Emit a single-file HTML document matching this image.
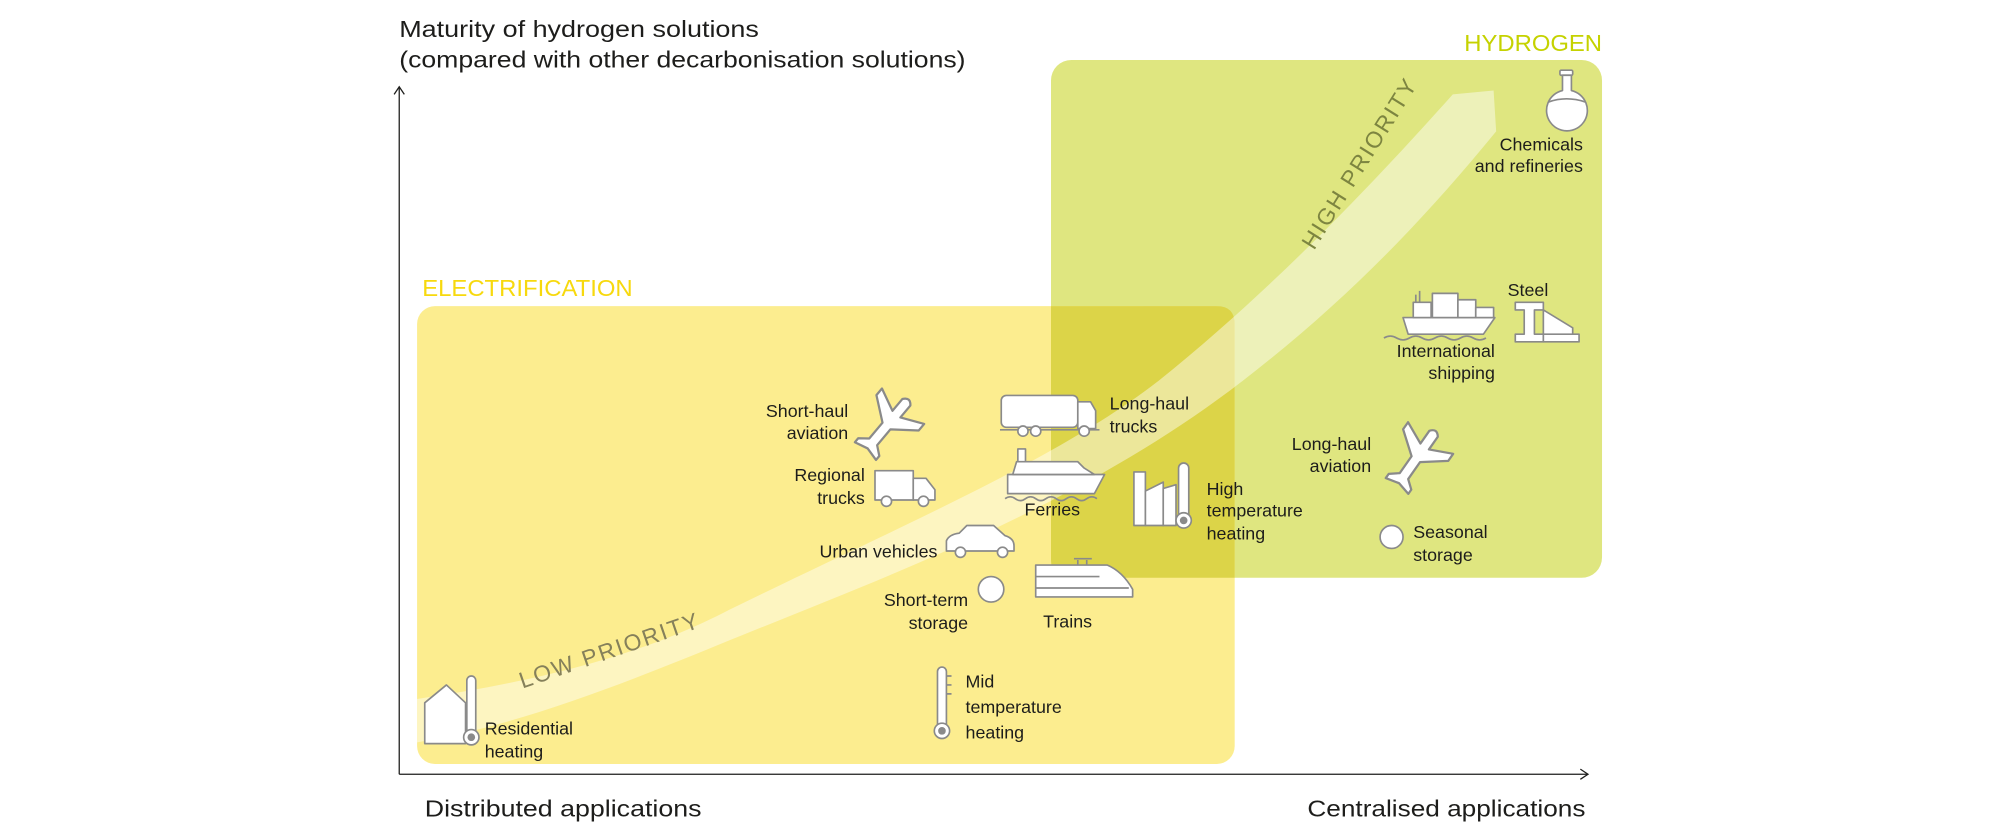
<!DOCTYPE html>
<html><head><meta charset="utf-8"><style>
html,body{margin:0;padding:0;background:#fff;}
svg{display:block;}
text{font-family:"Liberation Sans",sans-serif;}
.l{font-size:14px;fill:#1d1d1b;}
.ic{fill:#fff;stroke:#8a8a8a;stroke-width:1.3;stroke-linejoin:round;}
.icl{fill:none;stroke:#8a8a8a;stroke-width:1.3;}
</style></head><body>
<svg width="2001" height="838" viewBox="0 0 1568.8 657" preserveAspectRatio="none" xmlns="http://www.w3.org/2000/svg">
<rect x="824" y="47" width="432" height="406" rx="16" fill="#dfe680"/>
<rect x="327" y="240" width="641" height="359" rx="14" fill="#fced8f"/>
<path d="M824,240 H954 Q968,240 968,254 V453 H838 Q824,453 824,439 Z" fill="#dcd448"/>
<path d="M327,548 C450,530 520,505 572,478 C700,415 830,360 909,298 C1000,225 1080,140 1139,74 L1171,71 L1173,103 C1110,180 1050,240 975,298 C850,395 700,450 572,502 C480,540 400,570 327,582 Z" fill="#fff" fill-opacity="0.45"/>
<text x="478" y="516" transform="rotate(-19 478 510)" text-anchor="middle" font-size="18" fill="#85805a" letter-spacing="1.5">LOW PRIORITY</text>
<text x="1066" y="134" transform="rotate(-58 1066 128)" text-anchor="middle" font-size="18" fill="#7d8540" letter-spacing="1.5">HIGH PRIORITY</text>
<line x1="313" y1="68" x2="313" y2="607" stroke="#1d1d1b" stroke-width="1"/>
<path d="M309,74 L313,68 L317,74" fill="none" stroke="#1d1d1b"/>
<line x1="313" y1="607" x2="1245" y2="607" stroke="#1d1d1b" stroke-width="1"/>
<path d="M1239,603 L1245,607 L1239,611" fill="none" stroke="#1d1d1b"/>
<text x="313" y="29" font-size="18" fill="#1d1d1b" textLength="282" lengthAdjust="spacingAndGlyphs">Maturity of hydrogen solutions</text>
<text x="313" y="53" font-size="18" fill="#1d1d1b" textLength="444" lengthAdjust="spacingAndGlyphs">(compared with other decarbonisation solutions)</text>
<text x="1256" y="40" font-size="18" fill="#c5d200" text-anchor="end" textLength="108" lengthAdjust="spacingAndGlyphs">HYDROGEN</text>
<text x="331" y="232" font-size="18" fill="#f7d90e" textLength="165" lengthAdjust="spacingAndGlyphs">ELECTRIFICATION</text>
<text x="333" y="640" font-size="18" fill="#1d1d1b" textLength="217" lengthAdjust="spacingAndGlyphs">Distributed applications</text>
<text x="1025" y="640" font-size="18" fill="#1d1d1b" textLength="218" lengthAdjust="spacingAndGlyphs">Centralised applications</text>
<g class="l">
<text x="665" y="327" text-anchor="end">Short-haul</text>
<text x="665" y="344" text-anchor="end">aviation</text>
<text x="678" y="377" text-anchor="end">Regional</text>
<text x="678" y="395" text-anchor="end">trucks</text>
<text x="870" y="321">Long-haul</text>
<text x="870" y="339">trucks</text>
<text x="825" y="404" text-anchor="middle">Ferries</text>
<text x="946" y="388">High</text>
<text x="946" y="405">temperature</text>
<text x="946" y="423">heating</text>
<text x="735" y="437" text-anchor="end">Urban vehicles</text>
<text x="759" y="475" text-anchor="end">Short-term</text>
<text x="759" y="493" text-anchor="end">storage</text>
<text x="837" y="492" text-anchor="middle">Trains</text>
<text x="1075" y="353" text-anchor="end">Long-haul</text>
<text x="1075" y="370" text-anchor="end">aviation</text>
<text x="1108" y="422">Seasonal</text>
<text x="1108" y="440">storage</text>
<text x="1241" y="118" text-anchor="end">Chemicals</text>
<text x="1241" y="135" text-anchor="end">and refineries</text>
<text x="1172" y="280" text-anchor="end">International</text>
<text x="1172" y="297" text-anchor="end">shipping</text>
<text x="1182" y="232">Steel</text>
<text x="380" y="576">Residential</text>
<text x="380" y="594">heating</text>
<text x="757" y="539">Mid</text>
<text x="757" y="559">temperature</text>
<text x="757" y="579">heating</text>
</g>
<defs>
<path id="plane" d="M0,-3 L12,-3 L22,-16 L27,-16 L21,-3 L30,-3 Q34,0 30,3 L21,3 L27,16 L22,16 L12,3 L0,3 L-4,8 L-7,8 L-5,0 L-7,-8 L-4,-8 Z"/>
</defs>
<use href="#plane" class="ic" transform="translate(695,334) rotate(-50) scale(1.35) translate(-12,0)"/>
<use href="#plane" class="ic" transform="translate(1110,360) rotate(-55) scale(1.35) translate(-12,0)"/>
<g><rect x="686" y="369" width="30" height="23" class="ic"/><path d="M716,375 H726 L733,384 V392 H716 Z" class="ic"/><circle cx="695" cy="393" r="4" class="ic"/><circle cx="724" cy="393" r="4" class="ic"/></g>
<g><rect x="785" y="310" width="60" height="25" rx="4" class="ic"/><path d="M845,315 H855 L859,322 V336 H845 Z" class="ic"/><line x1="784" y1="337" x2="862" y2="337" class="icl"/><circle cx="802" cy="338" r="4" class="ic"/><circle cx="812" cy="338" r="4" class="ic"/><circle cx="850" cy="338" r="4" class="ic"/></g>
<g><path d="M790,372 H866 L858,387 H790 Z" class="ic"/><path d="M794,372 L797,362 H845 L850,367 L858,372 Z" class="ic"/><rect x="798" y="352" width="6" height="10" class="ic"/><path d="M788,391 q4,-3 8,0 t8,0 t8,0 t8,0 t8,0 t8,0 t8,0 t8,0 t8,0" class="icl"/></g>
<g><path d="M889,412 V370 H898 V412 Z" class="ic"/><path d="M898,412 V385 L912,378 V412 Z" class="ic"/><path d="M912,412 V383 L922,380 V412 Z" class="ic"/><rect x="924" y="363" width="8" height="45" rx="4" class="ic"/><circle cx="928" cy="408" r="6" class="ic"/><circle cx="928" cy="408" r="3" fill="#8a8a8a"/></g>
<g><path d="M742,432 V424 Q744,419 752,418 L758,412 H779 L788,420 Q795,422 795,428 V432 Z" class="ic"/><circle cx="753" cy="433" r="4" class="ic"/><circle cx="786" cy="433" r="4" class="ic"/></g>
<circle cx="777" cy="462" r="10" class="ic"/>
<g><path d="M812,443 H868 Q880,448 888,462 V468 H812 Z" class="ic"/><line x1="812" y1="452" x2="862" y2="452" class="icl"/><line x1="812" y1="461" x2="885" y2="461" class="icl"/><path d="M845,443 V439 M852,443 V439 M842,438 H856" class="icl"/></g>
<circle cx="1091" cy="421" r="9" class="ic"/>
<g><rect x="1223" y="55" width="10" height="4" rx="1" class="ic"/><path d="M1225,59 V71 A16,16 0 1 0 1232,71 V59 Z" class="ic"/><path d="M1214,80 Q1228,75 1243,80" class="icl"/></g>
<g><path d="M1100,249 H1172 L1163,262 H1104 Z" class="ic"/><rect x="1108" y="237" width="14" height="12" class="ic"/><rect x="1123" y="230" width="20" height="19" class="ic"/><rect x="1143" y="235" width="14" height="14" class="ic"/><rect x="1157" y="241" width="14" height="8" class="ic"/><path d="M1110,237 V231 M1113,237 V228" class="icl"/><path d="M1085,265 q5,-3 10,0 t10,0 t10,0 t10,0 t10,0 t10,0 t10,0 t10,0" class="icl"/></g>
<g><path d="M1188,237 H1210 V243 H1203 V262 H1210 V268 H1188 V262 H1195 V243 H1188 Z" class="ic"/><path d="M1210,243 L1233,257 V263 L1210,262 Z" class="ic"/><path d="M1210,262 H1238 V268 H1210 Z" class="ic"/></g>
<g><path d="M333,583 V551 L350,537 L365,551 V583 Z" class="ic"/><rect x="366" y="530" width="7" height="48" rx="3.5" class="ic"/><circle cx="369.5" cy="578" r="6" class="ic"/><circle cx="369.5" cy="578" r="3" fill="#8a8a8a"/></g>
<g><rect x="735" y="523" width="7" height="48" rx="3.5" class="ic"/><circle cx="738.5" cy="573" r="6" class="ic"/><circle cx="738.5" cy="573" r="3" fill="#8a8a8a"/><path d="M742,530 H746 M742,537 H746 M742,544 H746" class="icl"/></g>
</svg>
</body></html>
